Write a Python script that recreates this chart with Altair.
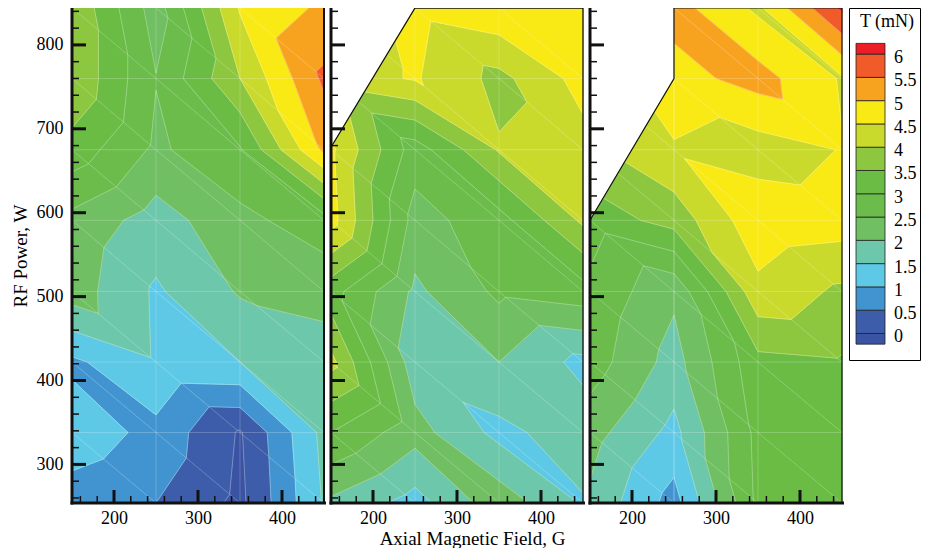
import altair as alt
import pandas as pd

# ---------------- data ----------------
X_NODES = [150, 250, 350, 450]                         # Axial magnetic field, G
Y_NODES = [844, 760, 675, 591, 506, 422, 338, 254]     # RF power, W (top -> bottom)

# Thrust T (mN) at the mesh nodes, rows top->bottom, columns follow X_NODES
P1_ROWS = [
    [3.95, 2.25, 4.55, 5.10],
    [3.95, 2.52, 4.00, 5.60],
    [3.30, 2.40, 2.95, 5.10],
    [2.35, 1.78, 2.35, 2.80],
    [2.25, 1.43, 2.05, 2.15],
    [0.90, 1.45, 1.50, 1.80],
    [1.30, 0.85, -0.05, 1.65],
    [0.75, 0.50, -0.12, 1.55],
]
P2_ROWS = [
    [4.20, 4.65, 4.90, 4.95],
    [4.20, 4.55, 3.85, 4.70],
    [4.60, 2.75, 4.05, 4.30],
    [4.70, 2.30, 2.80, 4.10],
    [3.20, 1.90, 2.60, 2.80],
    [4.15, 1.70, 2.00, 1.35],
    [3.00, 2.20, 1.35, 1.80],
    [1.90, 1.30, 2.30, 1.45],
]
P3_ROWS = [
    [4.50, 5.20, 4.40, 6.10],
    [4.20, 4.80, 5.20, 4.45],
    [3.90, 4.45, 4.25, 4.52],
    [3.20, 3.70, 4.85, 4.75],
    [2.90, 2.10, 4.36, 3.90],
    [2.75, 1.80, 3.35, 3.45],
    [2.20, 1.35, 3.15, 3.20],
    [1.90, 0.80, 3.10, 3.20],
]

# measured domain of each panel: convex pieces given as half-planes a*x + b*y <= c
P1_PIECES = [[]]
P2_PIECES = [[(-1.66, 1.0, 429.0)]]
P3_PIECES = [[(-1.69, 1.0, 337.5), (1.0, 0.0, 250.0)], [(-1.0, 0.0, -250.0)]]
# domain boundary lines
P1_OUTLINE_X = [450, 450]
P1_OUTLINE_Y = [254, 844]
P2_OUTLINE_X = [450, 450, 250, 150]
P2_OUTLINE_Y = [254, 844, 844, 678]
P3_OUTLINE_X = [450, 450, 250, 250, 150]
P3_OUTLINE_Y = [254, 844, 844, 760, 591]

LEVELS = [0.0, 0.5, 1.0, 1.5, 2.0, 2.5, 3.0, 3.5, 4.0, 4.5, 5.0, 5.5, 6.0]
BAND_COLORS = ["#3a53a3", "#3d5ca9", "#4294d0", "#5ec9e6", "#6dc7aa", "#70bf63",
               "#6bbc4b", "#6abc45", "#8dc63f", "#c9da2c", "#f9e915", "#f8a31f",
               "#f15a29", "#ec1d25"]
BAND_NAMES = ["B%02d" % i for i in range(len(BAND_COLORS))]
LEGEND_LABELS = ["0", "0.5", "1", "1.5", "2", "2.5", "3", "3.5", "4", "4.5", "5", "5.5", "6"]

X_MAJOR = [200, 300, 400]
X_MINOR = [160, 180, 220, 240, 260, 280, 320, 340, 360, 380, 420, 440]
Y_MAJOR = [300, 400, 500, 600, 700, 800]
Y_MINOR = [260, 280, 320, 340, 360, 380, 420, 440, 460, 480, 520, 540, 560, 580,
           620, 640, 660, 680, 720, 740, 760, 780, 820, 840]

W, H = 252, 495
FONT = "Liberation Serif"
INF = float("inf")


# ---------------- contouring helpers ----------------
def clip_poly(poly, g):
    out = []
    n = len(poly)
    for i in range(n):
        a, b = poly[i], poly[(i + 1) % n]
        ga, gb = g(a), g(b)
        if ga >= 0:
            out.append(a)
        if (ga >= 0) != (gb >= 0):
            t = ga / (ga - gb)
            out.append(tuple(a[k] + t * (b[k] - a[k]) for k in range(3)))
    return out


def area(poly):
    s = 0.0
    for i in range(len(poly)):
        x1, y1 = poly[i][0], poly[i][1]
        x2, y2 = poly[(i + 1) % len(poly)][0], poly[(i + 1) % len(poly)][1]
        s += x1 * y2 - x2 * y1
    return abs(s) / 2


def clip_seg(p, q, piece):
    t0, t1 = 0.0, 1.0
    for (a, b, c) in piece:
        g0 = c - (a * p[0] + b * p[1])
        g1 = c - (a * q[0] + b * q[1])
        if g0 < 0 and g1 < 0:
            return None
        if g0 < 0:
            t0 = max(t0, g0 / (g0 - g1))
        elif g1 < 0:
            t1 = min(t1, g0 / (g0 - g1))
    if t1 - t0 < 1e-6:
        return None
    return ((p[0] + t0 * (q[0] - p[0]), p[1] + t0 * (q[1] - p[1])),
            (p[0] + t1 * (q[0] - p[0]), p[1] + t1 * (q[1] - p[1])))


def triangles(rows):
    tris = []
    for j in range(len(Y_NODES) - 1):
        for i in range(len(X_NODES) - 1):
            TL = (X_NODES[i], Y_NODES[j], rows[j][i])
            TR = (X_NODES[i + 1], Y_NODES[j], rows[j][i + 1])
            BL = (X_NODES[i], Y_NODES[j + 1], rows[j + 1][i])
            BR = (X_NODES[i + 1], Y_NODES[j + 1], rows[j + 1][i + 1])
            tris.append((TL, TR, BR))
            tris.append((TL, BR, BL))
    return tris


def band_polygons(rows, pieces):
    recs = []
    pid = 0
    for tri in triangles(rows):
        for k in range(len(BAND_NAMES)):
            lo = LEVELS[k - 1] if k > 0 else -INF
            hi = LEVELS[k] if k < len(LEVELS) else INF
            poly = list(tri)
            if lo > -INF:
                poly = clip_poly(poly, lambda p, lo=lo: p[2] - lo)
            if len(poly) >= 3 and hi < INF:
                poly = clip_poly(poly, lambda p, hi=hi: hi - p[2])
            if len(poly) < 3:
                continue
            for piece in pieces:
                pp = poly
                for (a, b, c) in piece:
                    if len(pp) < 3:
                        break
                    pp = clip_poly(pp, lambda p, a=a, b=b, c=c: c - (a * p[0] + b * p[1]))
                if len(pp) < 3 or area(pp) < 0.05:
                    continue
                pts = pp + [pp[0]]
                for n, p in enumerate(pts):
                    recs.append({"pid": pid, "k": n, "x": p[0], "y": p[1], "band": BAND_NAMES[k]})
                pid += 1
    return pd.DataFrame(recs)


def contour_lines(rows, pieces):
    recs = []
    sid = 0
    for tri in triangles(rows):
        for L in LEVELS:
            pts = []
            for a, b in ((tri[0], tri[1]), (tri[1], tri[2]), (tri[2], tri[0])):
                va, vb = a[2] - L + 1e-7, b[2] - L + 1e-7
                if (va > 0) != (vb > 0):
                    t = va / (va - vb)
                    pts.append((a[0] + t * (b[0] - a[0]), a[1] + t * (b[1] - a[1])))
            if len(pts) != 2:
                continue
            for piece in pieces:
                s = clip_seg(pts[0], pts[1], piece)
                if s is None:
                    continue
                for n, p in enumerate(s):
                    recs.append({"sid": sid, "k": n, "x": p[0], "y": p[1]})
                sid += 1
    return pd.DataFrame(recs)


def mesh_lines(rows, pieces):
    edges = set()
    for tri in triangles(rows):
        for a, b in ((tri[0], tri[1]), (tri[1], tri[2]), (tri[2], tri[0])):
            e = tuple(sorted([(a[0], a[1]), (b[0], b[1])]))
            (x1, y1), (x2, y2) = e
            if (x1 == x2 and x1 in (X_NODES[0], X_NODES[-1])) or \
               (y1 == y2 and y1 in (Y_NODES[0], Y_NODES[-1])):
                continue
            edges.add(e)
    recs = []
    sid = 0
    for p, q in sorted(edges):
        for piece in pieces:
            s = clip_seg(p, q, piece)
            if s is None:
                continue
            for n, pt in enumerate(s):
                recs.append({"sid": sid, "k": n, "x": pt[0], "y": pt[1]})
            sid += 1
    return pd.DataFrame(recs)


# ---------------- charts ----------------
XS = alt.Scale(domain=[150, 450], nice=False, zero=False)
YS = alt.Scale(domain=[254, 844], nice=False, zero=False)
BAND_SCALE = alt.Scale(domain=BAND_NAMES, range=BAND_COLORS)


def make_panel(rows, pieces, out_x, out_y, show_y, x_title, out_width):
    if x_title is None:
        xaxis = alt.Axis(values=X_MAJOR, ticks=False, domain=False, grid=False,
                         labelPadding=6, title=None)
    else:
        xaxis = alt.Axis(values=X_MAJOR, ticks=False, domain=False, grid=False,
                         labelPadding=6, title=x_title, titlePadding=2, titleX=141)
    if show_y:
        yaxis = alt.Axis(values=Y_MAJOR, ticks=False, domain=False, grid=False,
                         labelPadding=9, title="RF Power, W", titlePadding=6)
    else:
        yaxis = None

    def X(field):
        return alt.X(field, scale=XS, axis=xaxis, title=x_title)

    def Y(field):
        return alt.Y(field, scale=YS, axis=yaxis, title="RF Power, W" if show_y else None)

    polys = alt.Chart(band_polygons(rows, pieces)).mark_line(
        filled=True, strokeWidth=0.8, strokeJoin="round"
    ).encode(
        x=X("x:Q"), y=Y("y:Q"),
        fill=alt.Fill("band:N", scale=BAND_SCALE, legend=None),
        stroke=alt.Stroke("band:N", scale=BAND_SCALE, legend=None),
        detail="pid:N",
        order="k:Q",
    )
    mesh = alt.Chart(mesh_lines(rows, pieces)).mark_line(
        color="white", strokeWidth=0.6, opacity=0.35
    ).encode(x=X("x:Q"), y=Y("y:Q"), detail="sid:N", order="k:Q")
    conts = alt.Chart(contour_lines(rows, pieces)).mark_line(
        color="white", strokeWidth=0.6, opacity=0.5
    ).encode(x=X("x:Q"), y=Y("y:Q"), detail="sid:N", order="k:Q")
    outline = alt.Chart(pd.DataFrame({"x": out_x, "y": out_y, "k": list(range(len(out_x)))})).mark_line(
        color="#111", strokeWidth=out_width
    ).encode(x=X("x:Q"), y=Y("y:Q"), order="k:Q")
    ymaj = alt.Chart(pd.DataFrame({"y": Y_MAJOR})).mark_rule(color="#111", strokeWidth=3).encode(
        y=Y("y:Q"), x=alt.value(0), x2=alt.value(14))
    ymin = alt.Chart(pd.DataFrame({"y": Y_MINOR})).mark_rule(color="#111", strokeWidth=1.5).encode(
        y=Y("y:Q"), x=alt.value(0), x2=alt.value(7))
    xmaj = alt.Chart(pd.DataFrame({"x": X_MAJOR})).mark_rule(color="#111", strokeWidth=3).encode(
        x=X("x:Q"), y=alt.value(H), y2=alt.value(H - 13))
    xmin = alt.Chart(pd.DataFrame({"x": X_MINOR})).mark_rule(color="#111", strokeWidth=1.5).encode(
        x=X("x:Q"), y=alt.value(H), y2=alt.value(H - 7))
    one = pd.DataFrame({"a": [0]})
    left = alt.Chart(one).mark_rule(color="#111", strokeWidth=3).encode(
        x=alt.value(0), y=alt.value(0), y2=alt.value(H + 1.5))
    bottom = alt.Chart(one).mark_rule(color="#111", strokeWidth=3).encode(
        y=alt.value(H), x=alt.value(-1.5), x2=alt.value(W + 2))
    return alt.layer(polys, mesh, conts, outline, ymaj, ymin, xmaj, xmin, left, bottom).properties(
        width=W, height=H)


p1 = make_panel(P1_ROWS, P1_PIECES, P1_OUTLINE_X, P1_OUTLINE_Y, True, None, 2.0)
p2 = make_panel(P2_ROWS, P2_PIECES, P2_OUTLINE_X, P2_OUTLINE_Y, False, "Axial Magnetic Field, G", 1.3)
p3 = make_panel(P3_ROWS, P3_PIECES, P3_OUTLINE_X, P3_OUTLINE_Y, False, None, 1.2)

# ---------------- legend ----------------
LYS = alt.Scale(domain=[-0.57, 6.99], nice=False, zero=False)
leg_lo = [-0.23] + LEVELS
leg_hi = LEVELS + [6.23]
leg_df = pd.DataFrame({"lo": leg_lo, "hi": leg_hi, "band": BAND_NAMES})
lab_df = pd.DataFrame({"v": LEVELS, "t": LEGEND_LABELS})

leg_bars = alt.Chart(leg_df).mark_rect(stroke="#222", strokeWidth=0.8).encode(
    y=alt.Y("lo:Q", scale=LYS, axis=None), y2="hi:Q",
    x=alt.value(7), x2=alt.value(36),
    fill=alt.Fill("band:N", scale=BAND_SCALE, legend=None),
)
leg_text = alt.Chart(lab_df).mark_text(
    align="left", baseline="middle", dy=4, font=FONT, fontSize=18, color="black"
).encode(y=alt.Y("v:Q", scale=LYS, axis=None), x=alt.value(45), text="t:N")
leg_title = alt.Chart(pd.DataFrame({"t": ["T (mN)"]})).mark_text(
    align="center", baseline="middle", font=FONT, fontSize=18, color="black"
).encode(x=alt.value(38), y=alt.value(14), text="t:N")
legend = alt.layer(leg_bars, leg_text, leg_title).properties(
    width=71, height=352, view=alt.ViewBackground(stroke="black", strokeWidth=1))

chart = alt.hconcat(p1, p2, p3, legend, spacing=7, bounds="flush").properties(
    padding={"left": 3, "top": -4, "right": 0, "bottom": 0}
).configure_view(stroke=None).configure_axis(
    labelFont=FONT, labelFontSize=18, labelColor="black",
    titleFont=FONT, titleFontSize=19, titleColor="black", titleFontWeight="normal",
)

chart.save("out.html", embed_options={"renderer": "svg", "actions": False})
